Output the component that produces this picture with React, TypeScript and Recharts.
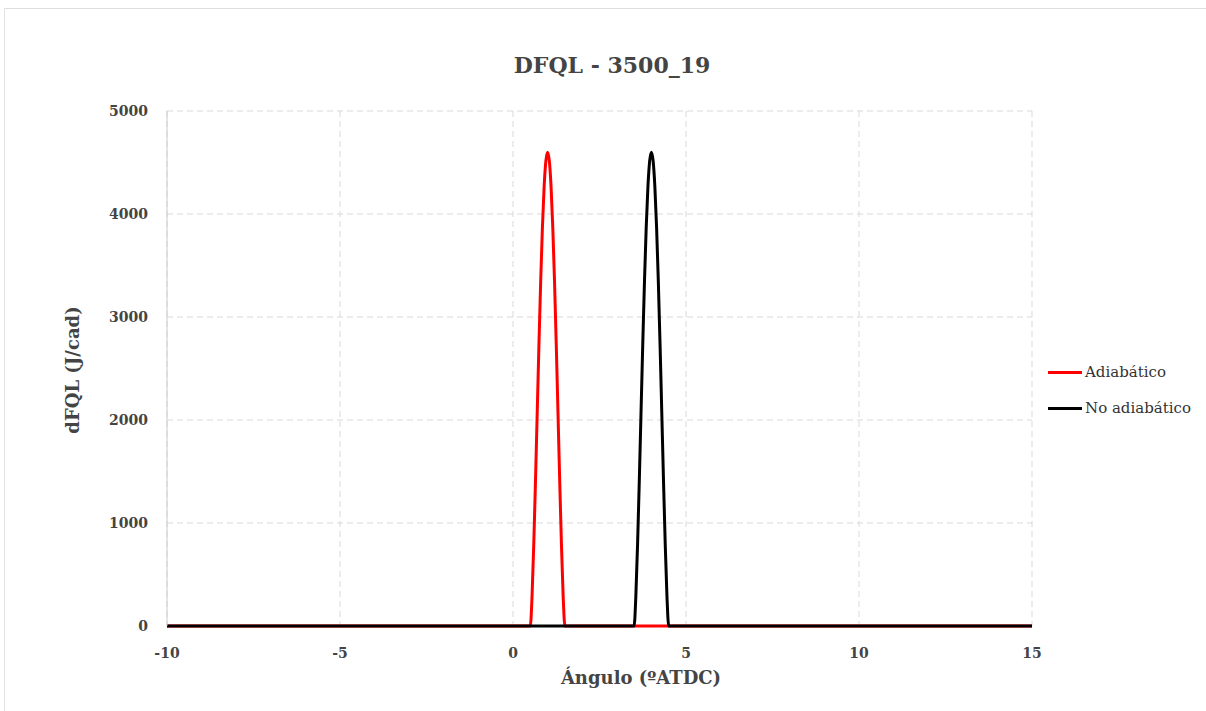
import { LineChart, Line, XAxis, YAxis, CartesianGrid } from 'recharts'

// crank angle (ºATDC) and heat release (J/cad)
const adiabaticAngle = [-10, 0.5, 0.55, 0.6, 0.65, 0.7, 0.75, 0.8, 0.85, 0.9, 0.95, 1.0, 1.05, 1.1, 1.15, 1.2, 1.25, 1.3, 1.35, 1.4, 1.45, 1.5, 15]
const adiabaticValue = [0, 0, 285, 790, 1407, 2073, 2735, 3347, 3869, 4267, 4515, 4600, 4515, 4267, 3869, 3347, 2735, 2073, 1407, 790, 285, 0, 0]

const noAdiabaticAngle = [-10, 3.5, 3.55, 3.6, 3.65, 3.7, 3.75, 3.8, 3.85, 3.9, 3.95, 4.0, 4.05, 4.1, 4.15, 4.2, 4.25, 4.3, 4.35, 4.4, 4.45, 4.5, 15]
const noAdiabaticValue = [0, 0, 285, 790, 1407, 2073, 2735, 3347, 3869, 4267, 4515, 4600, 4515, 4267, 3869, 3347, 2735, 2073, 1407, 790, 285, 0, 0]

const xTicks = [-10, -5, 0, 5, 10, 15]
const yTicks = [0, 1000, 2000, 3000, 4000, 5000]

const adiabaticData = adiabaticAngle.map((a, i) => ({ angle: a, value: adiabaticValue[i] }))
const noAdiabaticData = noAdiabaticAngle.map((a, i) => ({ angle: a, value: noAdiabaticValue[i] }))

const serif = '"DejaVu Serif", "Liberation Serif", serif'
const tickStyle = { fill: '#444', fontSize: 14, fontWeight: 700, fontFamily: serif }

const series = [
  { name: 'Adiabático', color: '#ff0000' },
  { name: 'No adiabático', color: '#000000' },
]

function LegendBox() {
  return (
    <div style={{ position: 'absolute', left: 1048, top: 354, fontFamily: serif, fontSize: 15, color: '#333' }}>
      {series.map((s) => (
        <div key={s.name} style={{ display: 'flex', alignItems: 'center', height: 36 }}>
          <span style={{ width: 34, height: 3, background: s.color, marginRight: 3 }} />
          <span>{s.name}</span>
        </div>
      ))}
    </div>
  )
}

export default function App() {
  return (
    <div
      style={{
        position: 'absolute',
        left: 0,
        top: 0,
        width: 1206,
        height: 711,
        background: '#fff',
        overflow: 'hidden',
      }}
    >
      <div style={{ position: 'absolute', left: 4, top: 8, right: 0, height: 1, background: '#ddd' }} />
      <div style={{ position: 'absolute', left: 4, top: 8, width: 1, bottom: 0, background: '#e4e4e4' }} />
      <div
        style={{
          position: 'absolute',
          left: 412,
          width: 400,
          top: 52,
          textAlign: 'center',
          fontFamily: serif,
          fontWeight: 700,
          fontSize: 22,
          color: '#444',
        }}
      >
        DFQL - 3500_19
      </div>
      <div
        style={{
          position: 'absolute',
          left: 72,
          top: 370,
          transform: 'translate(-50%, -50%) rotate(-90deg)',
          whiteSpace: 'nowrap',
          fontFamily: serif,
          fontWeight: 700,
          fontSize: 18,
          color: '#444',
        }}
      >
        dFQL (J/cad)
      </div>
      <div
        style={{
          position: 'absolute',
          left: 641,
          top: 677,
          transform: 'translate(-50%, -50%)',
          whiteSpace: 'nowrap',
          fontFamily: serif,
          fontWeight: 700,
          fontSize: 18,
          color: '#444',
        }}
      >
        Ángulo (ºATDC)
      </div>
      <div style={{ position: 'absolute', left: 0, top: 0 }}>
        <LineChart width={1206} height={711} margin={{ top: 111, right: 174, left: 107, bottom: 0 }}>
          <CartesianGrid stroke="#d9d9d9" strokeDasharray="6 4" />
          <XAxis
            type="number"
            dataKey="angle"
            domain={[-10, 15]}
            ticks={xTicks}
            allowDuplicatedCategory={false}
            axisLine={false}
            tickLine={false}
            tickSize={0}
            tickMargin={22}
            tick={tickStyle}
            height={85}
          />
          <YAxis
            type="number"
            domain={[0, 5000]}
            ticks={yTicks}
            axisLine={{ stroke: '#ccc' }}
            tickLine={false}
            tickSize={0}
            tickMargin={19}
            tick={tickStyle}
            width={60}
          />
          <Line
            data={adiabaticData}
            dataKey="value"
            name="Adiabático"
            type="monotone"
            stroke="#ff0000"
            strokeWidth={3}
            dot={false}
            isAnimationActive={false}
          />
          <Line
            data={noAdiabaticData}
            dataKey="value"
            name="No adiabático"
            type="monotone"
            stroke="#000000"
            strokeWidth={3}
            dot={false}
            isAnimationActive={false}
          />
        </LineChart>
      </div>
      <LegendBox />
    </div>
  )
}
